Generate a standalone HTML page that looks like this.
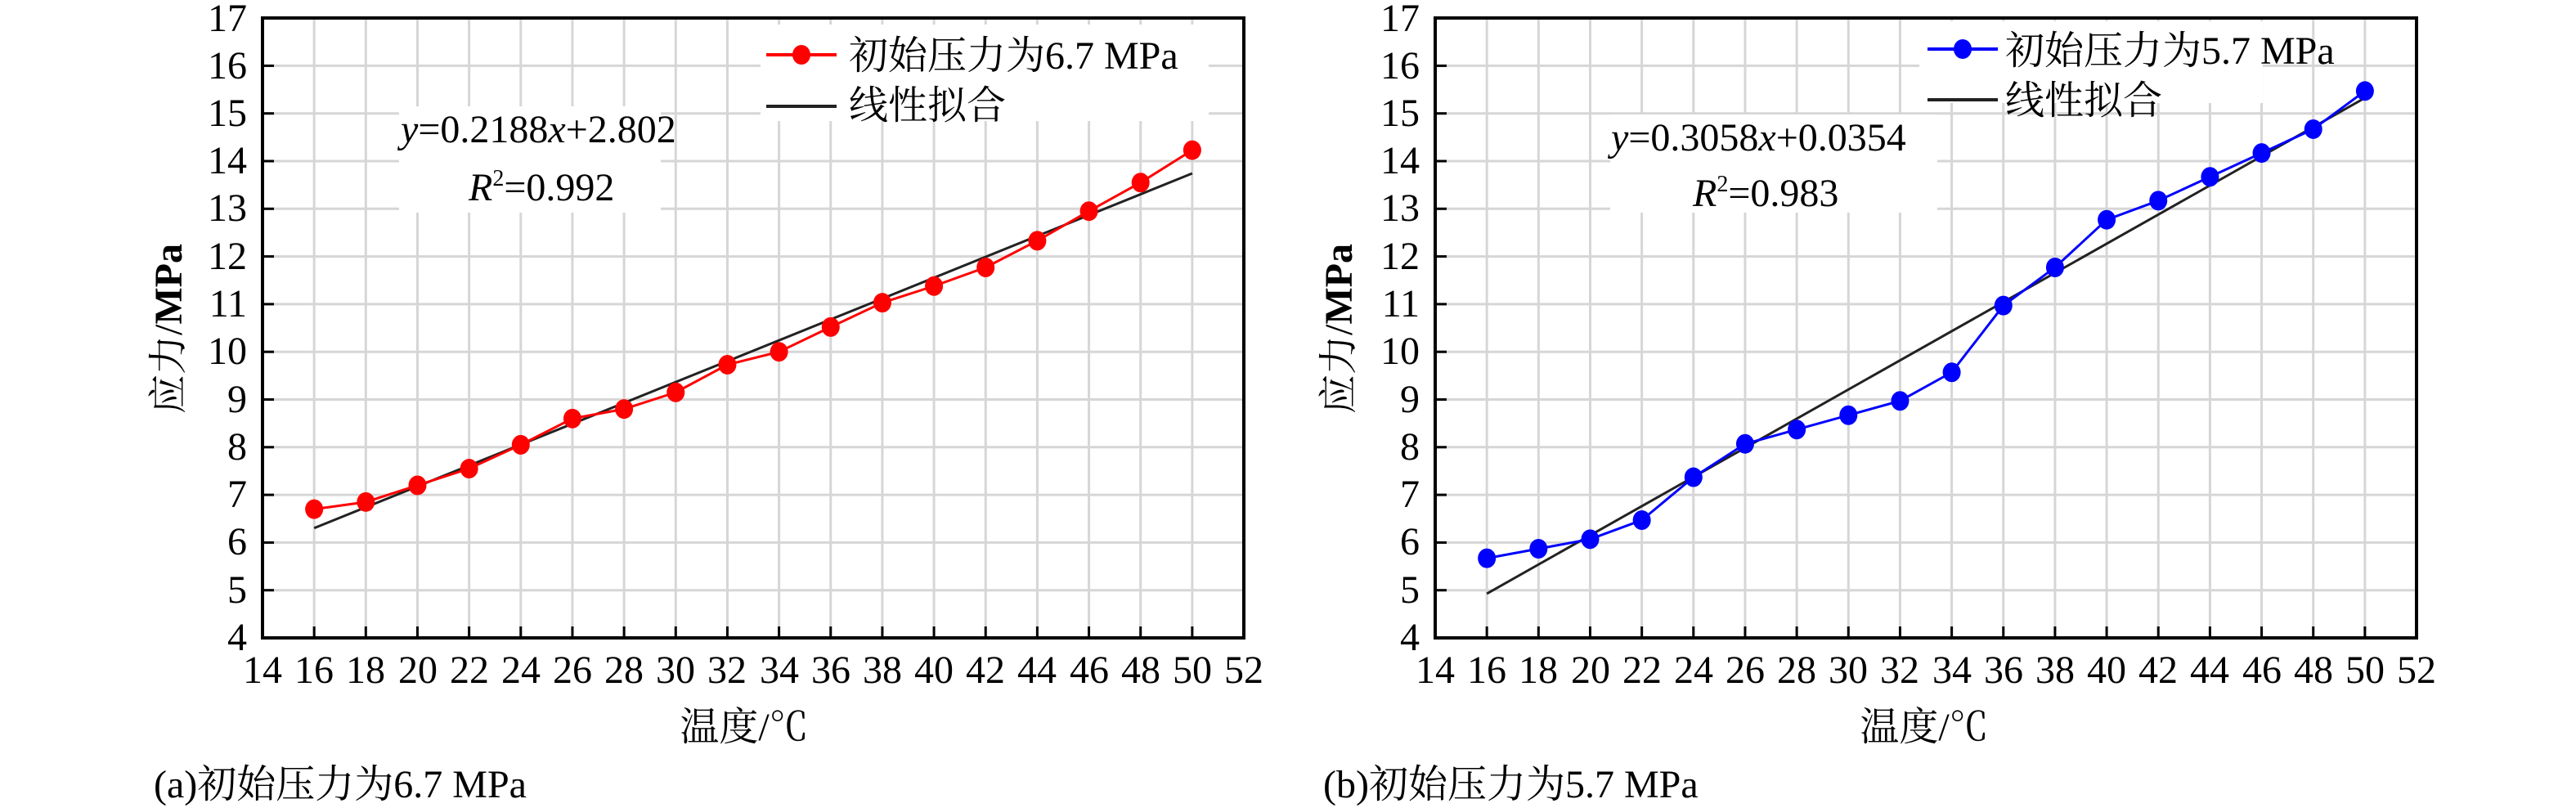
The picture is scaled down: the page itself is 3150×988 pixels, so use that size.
<!DOCTYPE html>
<html><head><meta charset="utf-8"><style>
html,body{margin:0;padding:0;background:#fff;width:3150px;height:988px;overflow:hidden}
svg{display:block;font-family:"Liberation Serif","Times New Roman","Noto Serif CJK SC",serif}
svg text{font-family:"Liberation Serif","Times New Roman","Noto Serif CJK SC",serif;fill:#000}
.t{font-size:48px}
</style></head><body>
<svg width="3150" height="988" viewBox="0 0 3150 988" xmlns="http://www.w3.org/2000/svg" font-family="Liberation Serif, Noto Serif CJK SC, serif">
<g id="pa"></g>
<g id="pb" transform="translate(1434,0)"></g>

<!-- Panel a texts -->
<g class="t" text-anchor="end">
<text x="302" y="795">4</text><text x="302" y="737">5</text><text x="302" y="678">6</text><text x="302" y="620">7</text><text x="302" y="562">8</text><text x="302" y="504">9</text><text x="302" y="445">10</text><text x="302" y="387">11</text><text x="302" y="329">12</text><text x="302" y="270">13</text><text x="302" y="212">14</text><text x="302" y="154">15</text><text x="302" y="96">16</text><text x="302" y="38">17</text>
</g>
<g class="t" text-anchor="middle">
<text x="321" y="835">14</text><text x="384" y="835">16</text><text x="447" y="835">18</text><text x="511" y="835">20</text><text x="574" y="835">22</text><text x="637" y="835">24</text><text x="700" y="835">26</text><text x="763" y="835">28</text><text x="826" y="835">30</text><text x="889" y="835">32</text><text x="953" y="835">34</text><text x="1016" y="835">36</text><text x="1079" y="835">38</text><text x="1142" y="835">40</text><text x="1205" y="835">42</text><text x="1268" y="835">44</text><text x="1332" y="835">46</text><text x="1395" y="835">48</text><text x="1458" y="835">50</text><text x="1521" y="835">52</text>
</g>
<text x="910" y="905" font-size="48" text-anchor="middle">温度/℃</text>
<text transform="translate(222,402) rotate(-90)" font-size="48" text-anchor="middle">应力/<tspan font-weight="bold">MPa</tspan></text>
<text x="188" y="975" font-size="48">(a)初始压力为6.7 MPa</text>
<text x="1038" y="84" font-size="48">初始压力为6.7 MPa</text>
<text x="1038" y="145" font-size="48">线性拟合</text>
<text x="490" y="174" font-size="48"><tspan font-style="italic">y</tspan>=0.2188<tspan font-style="italic">x</tspan>+2.802</text>
<text x="573" y="245" font-size="48"><tspan font-style="italic">R</tspan><tspan font-size="28" dy="-18">2</tspan><tspan dy="18">=0.992</tspan></text>

<!-- Panel b texts -->
<g class="t" text-anchor="end">
<text x="1736" y="795">4</text><text x="1736" y="737">5</text><text x="1736" y="678">6</text><text x="1736" y="620">7</text><text x="1736" y="562">8</text><text x="1736" y="504">9</text><text x="1736" y="445">10</text><text x="1736" y="387">11</text><text x="1736" y="329">12</text><text x="1736" y="270">13</text><text x="1736" y="212">14</text><text x="1736" y="154">15</text><text x="1736" y="96">16</text><text x="1736" y="38">17</text>
</g>
<g class="t" text-anchor="middle">
<text x="1755" y="835">14</text><text x="1818" y="835">16</text><text x="1881" y="835">18</text><text x="1945" y="835">20</text><text x="2008" y="835">22</text><text x="2071" y="835">24</text><text x="2134" y="835">26</text><text x="2197" y="835">28</text><text x="2260" y="835">30</text><text x="2323" y="835">32</text><text x="2387" y="835">34</text><text x="2450" y="835">36</text><text x="2513" y="835">38</text><text x="2576" y="835">40</text><text x="2639" y="835">42</text><text x="2702" y="835">44</text><text x="2766" y="835">46</text><text x="2829" y="835">48</text><text x="2892" y="835">50</text><text x="2955" y="835">52</text>
</g>
<text x="2353" y="905" font-size="48" text-anchor="middle">温度/℃</text>
<text transform="translate(1653,402) rotate(-90)" font-size="48" text-anchor="middle">应力/<tspan font-weight="bold">MPa</tspan></text>
<text x="1618" y="975" font-size="48">(b)初始压力为5.7 MPa</text>
<text x="2452" y="78" font-size="48">初始压力为5.7 MPa</text>
<text x="2452" y="139" font-size="48">线性拟合</text>
<text x="1970" y="184" font-size="48"><tspan font-style="italic">y</tspan>=0.3058<tspan font-style="italic">x</tspan>+0.0354</text>
<text x="2070" y="252" font-size="48"><tspan font-style="italic">R</tspan><tspan font-size="28" dy="-18">2</tspan><tspan dy="18">=0.983</tspan></text>
</svg>
<script>
var NS="http://www.w3.org/2000/svg";
function el(p,n,a){var e=document.createElementNS(NS,n);for(var k in a)e.setAttribute(k,a[k]);p.appendChild(e);return e;}
function X(v){return 321+(v-14)*31.58;}
function Y(v){return 780-(v-4)*58.3;}
function panel(id,data,m,b,color,leg,eq){
 var g=document.getElementById(id);
 for(var v=16;v<=50;v+=2)el(g,"line",{x1:X(v),x2:X(v),y1:22,y2:780,stroke:"#d6d6d6","stroke-width":3});
 for(var v=5;v<=16;v++)el(g,"line",{x1:321,x2:1521,y1:Y(v),y2:Y(v),stroke:"#d6d6d6","stroke-width":3});
 el(g,"rect",{x:eq[0],y:eq[1],width:eq[2],height:eq[3],fill:"#fff"});
 el(g,"rect",{x:leg[0],y:leg[1],width:leg[2],height:leg[3],fill:"#fff"});
 el(g,"line",{x1:X(16),y1:Y(m*16+b),x2:X(50),y2:Y(m*50+b),stroke:"#222","stroke-width":3});
 var pts=data.map(function(d,i){return X(16+2*i)+","+Y(d);}).join(" ");
 el(g,"polyline",{points:pts,fill:"none",stroke:color,"stroke-width":3});
 data.forEach(function(d,i){el(g,"ellipse",{cx:X(16+2*i),cy:Y(d),rx:11,ry:12,fill:color});});
 el(g,"rect",{x:321,y:22,width:1200,height:758,fill:"none",stroke:"#000","stroke-width":4});
 for(var v=16;v<=50;v+=2)el(g,"line",{x1:X(v),x2:X(v),y1:780,y2:766,stroke:"#000","stroke-width":3});
 for(var v=5;v<=16;v++)el(g,"line",{x1:321,x2:335,y1:Y(v),y2:Y(v),stroke:"#000","stroke-width":3});
 var ly1=leg[4],ly2=leg[5],lx=leg[6];
 el(g,"line",{x1:lx,x2:lx+86,y1:ly1,y2:ly1,stroke:color,"stroke-width":4});
 el(g,"ellipse",{cx:lx+43,cy:ly1,rx:11,ry:12,fill:color});
 el(g,"line",{x1:lx,x2:lx+86,y1:ly2,y2:ly2,stroke:"#222","stroke-width":4});
}
panel("pa",[6.7,6.85,7.2,7.55,8.05,8.6,8.8,9.15,9.73,10.0,10.52,11.03,11.38,11.77,12.33,12.95,13.55,14.23],0.2188,2.802,"#ff0000",[930,30,548,118,67,130,937],[488,130,320,130]);
panel("pb",[5.67,5.87,6.07,6.47,7.37,8.07,8.37,8.67,8.97,9.57,10.97,11.77,12.77,13.17,13.67,14.17,14.67,15.47],0.3058,0.0354,"#0000ff",[913,26,420,100,60,122,923],[535,140,400,120]);
</script>
</body></html>
